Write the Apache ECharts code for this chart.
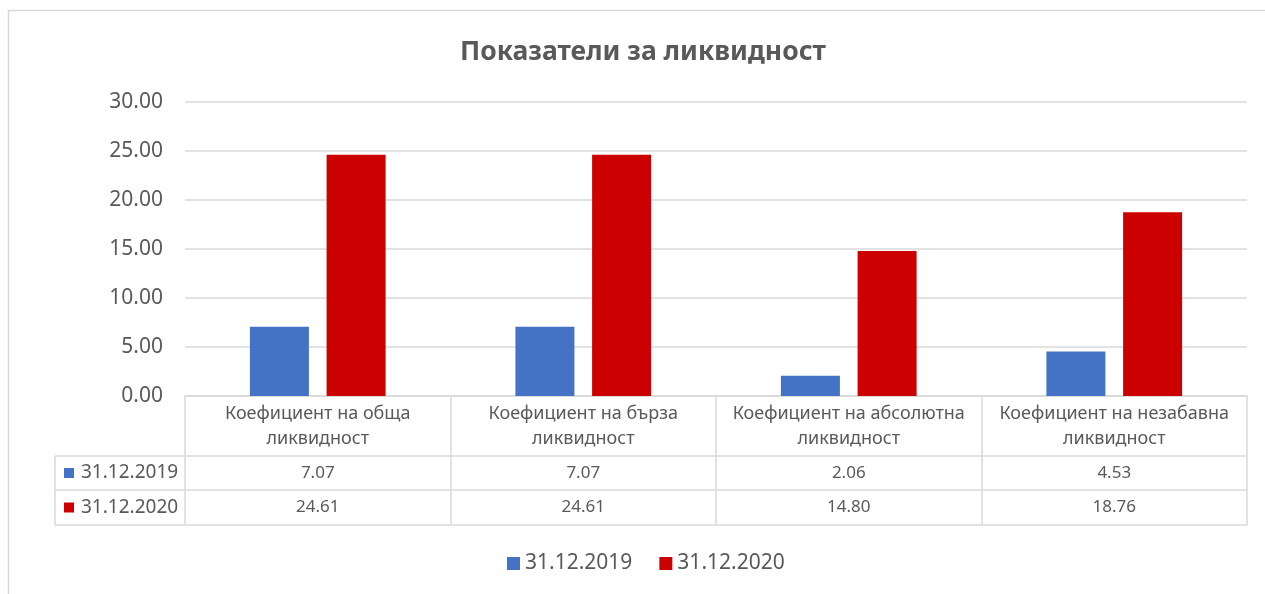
<!DOCTYPE html>
<html><head><meta charset="utf-8">
<script src="https://cdn.jsdelivr.net/npm/echarts@6/dist/echarts.min.js"></script>
<style>html,body{margin:0;padding:0;background:#fff;overflow:hidden}#c{width:1265px;height:594px}</style>
</head><body><div id="c"></div>
<script>
const chartTitle = 'Показатели за ликвидност';
const categories = [
  'Коефициент на обща\nликвидност',
  'Коефициент на бърза\nликвидност',
  'Коефициент на абсолютна\nликвидност',
  'Коефициент на незабавна\nликвидност'
];
const seriesNames = ['31.12.2019', '31.12.2020'];
const values2019 = [7.07, 7.07, 2.06, 4.53];
const values2020 = [24.61, 24.61, 14.80, 18.76];
const yMin = 0, yMax = 30, yStep = 5;

const colors = ['#4472C4', '#CC0000'];
const textColor = '#595959';
const lineColor = '#D9D9D9';
const font = 'Noto Sans';

const chart = echarts.init(document.getElementById('c'));
const G = { left: 185, right: 18, top: 102, bottom: 198 };
const rowY = [456, 490, 525];   // table row borders below header
const labelColLeft = 55;

chart.setOption({
  animation: false,
  color: colors,
  textStyle: { fontFamily: font },
  title: {
    text: chartTitle, left: 455, top: 34,
    textStyle: { fontSize: 26.5, fontWeight: 'bold', color: textColor, fontFamily: font }
  },
  legend: {
    data: seriesNames, bottom: 15, left: 502, icon: 'rect',
    itemWidth: 13, itemHeight: 13, itemGap: 27,
    textStyle: { fontSize: 21, color: textColor, fontFamily: font, padding: [0, 0, 0, 0] }
  },
  grid: G,
  xAxis: {
    type: 'category', data: categories,
    axisLine: { show: true, lineStyle: { color: lineColor, width: 1.5 } },
    axisTick: { show: true, length: rowY[2] - (594 - G.bottom), lineStyle: { color: lineColor, width: 1.5 } },
    axisLabel: { margin: 5, fontSize: 18, lineHeight: 25, color: textColor, fontFamily: font, interval: 0 }
  },
  yAxis: {
    type: 'value', min: yMin, max: yMax, interval: yStep,
    axisLine: { show: false }, axisTick: { show: false },
    axisLabel: { margin: 22, fontSize: 21, color: textColor, fontFamily: font, formatter: v => v.toFixed(2) },
    splitLine: { lineStyle: { color: lineColor, width: 1.5 } }
  },
  series: [
    { name: seriesNames[0], type: 'bar', data: values2019, barWidth: 59, barGap: '30%' },
    { name: seriesNames[1], type: 'bar', data: values2020, barWidth: 59, barGap: '30%' }
  ]
});

function buildTable() {
  const W = 1265;
  const right = W - G.right;
  const els = [];
  els.push({ type: 'rect', shape: { x: 8.5, y: 10.5, width: 1300, height: 700 },
    style: { fill: null, stroke: lineColor, lineWidth: 1.5 }, silent: true, z: -1 });
  rowY.forEach(y => els.push({ type: 'line', shape: { x1: labelColLeft, y1: y, x2: right, y2: y },
    style: { stroke: lineColor, lineWidth: 1.5 }, silent: true }));
  els.push({ type: 'line', shape: { x1: labelColLeft, y1: rowY[0], x2: labelColLeft, y2: rowY[2] },
    style: { stroke: lineColor, lineWidth: 1.5 }, silent: true });
  const rows = [values2019, values2020];
  rows.forEach((vals, r) => {
    const cy = (rowY[r] + rowY[r + 1]) / 2;
    els.push({ type: 'rect', shape: { x: 64, y: cy - 5, width: 10, height: 10 }, style: { fill: colors[r] }, silent: true });
    els.push({ type: 'text', x: 81, y: cy, style: { text: seriesNames[r], fontSize: 19, fontFamily: font,
      fill: textColor, textVerticalAlign: 'middle', textAlign: 'left' }, silent: true });
    vals.forEach((v, i) => {
      const cx = chart.convertToPixel({ xAxisIndex: 0 }, i);
      els.push({ type: 'text', x: cx, y: cy, style: { text: v.toFixed(2), fontSize: 17, fontFamily: font,
        fill: textColor, textAlign: 'center', textVerticalAlign: 'middle' }, silent: true });
    });
  });
  chart.setOption({ graphic: els });
}
buildTable();
</script>
</body></html>
